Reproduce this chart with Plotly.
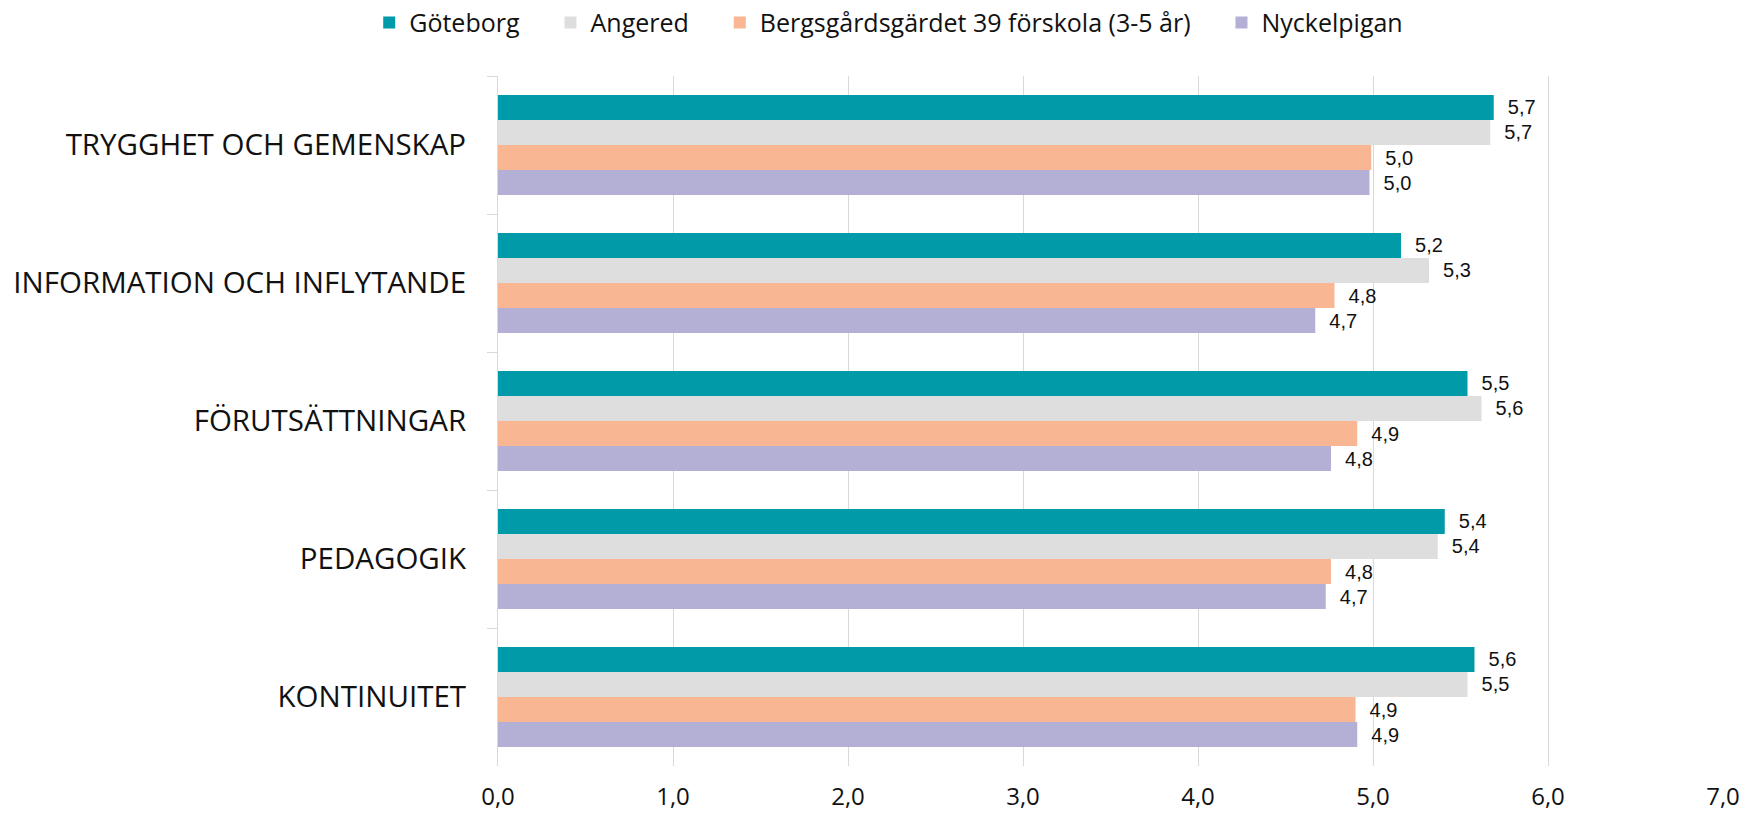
import plotly.graph_objects as go

categories = ["TRYGGHET OCH GEMENSKAP", "INFORMATION OCH INFLYTANDE", "FÖRUTSÄTTNINGAR", "PEDAGOGIK", "KONTINUITET"]
series_names = ["Göteborg", "Angered", "Bergsgårdsgärdet 39 förskola (3-5 år)", "Nyckelpigan"]
goteborg = [5.69, 5.16, 5.54, 5.41, 5.58]
angered = [5.67, 5.32, 5.62, 5.37, 5.54]
bergs = [4.99, 4.78, 4.91, 4.76, 4.90]
nyckel = [4.98, 4.67, 4.76, 4.73, 4.91]
colors = ["#009aa9", "#dedede", "#f8b693", "#b4afd4"]
x_ticks = [0, 1, 2, 3, 4, 5, 6, 7]

PAD = "\u00a0" * 4

fig = go.Figure()
for i, (name, vals, col) in enumerate(zip(series_names, [goteborg, angered, bergs, nyckel], colors)):
    fig.add_trace(go.Bar(
        y=categories, x=vals, name=name + (PAD if i < 3 else ""), orientation="h",
        marker=dict(color=col, line=dict(width=0)),
        texttemplate="\u00a0\u00a0%{x:.1f}", textposition="outside",
        textfont=dict(family="Liberation Sans, Arial", size=20, color="#111111"),
        cliponaxis=False,
    ))

fig.update_layout(
    barmode="group", bargap=0.275, bargroupgap=0,
    width=1746, height=814,
    margin=dict(l=498, r=23, t=76, b=48),
    paper_bgcolor="white", plot_bgcolor="white",
    separators=",.",
    font=dict(family="Open Sans", color="#111111"),
    legend=dict(orientation="h", xref="container", yref="container",
                x=0.509, xanchor="center", y=0.972, yanchor="middle",
                font=dict(family="Open Sans", size=25, color="#111111"),
                traceorder="normal"),
    xaxis=dict(range=[0, 7], tickvals=x_ticks, tickformat=".1f",
               showgrid=True, gridcolor="#d9d9d9", gridwidth=1,
               zeroline=False, showline=False, ticks="", automargin=False,
               tickfont=dict(family="Open Sans", size=24, color="#111111"),
               ticklabelstandoff=14),
    yaxis=dict(autorange="reversed", showgrid=False, showline=True,
               linecolor="#d9d9d9", linewidth=1, automargin=False,
               ticks="outside", tickson="boundaries", ticklen=10,
               tickcolor="#d9d9d9", tickwidth=1,
               tickfont=dict(family="Open Sans", size=29.5, color="#111111"),
               ticklabelstandoff=25),
)

fig.write_html("out.html", config={"displayModeBar": False},
               post_script="document.body.style.margin='0';document.body.style.overflow='hidden';")
